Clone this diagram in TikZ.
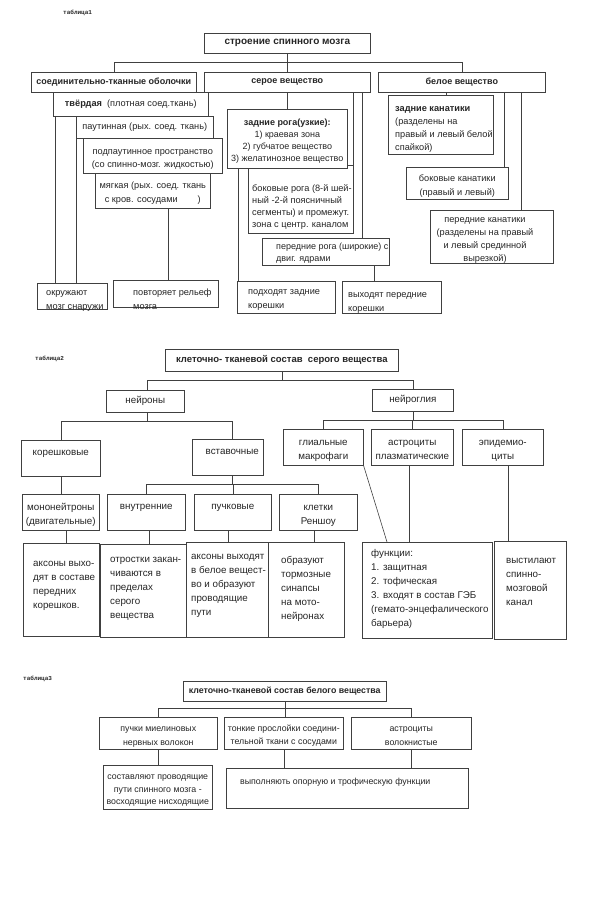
\documentclass[tikz,border=0pt]{standalone}
\usepackage{fontspec}
\setmainfont{Liberation Sans}
\newfontfamily\tabfont{Liberation Mono}
\usetikzlibrary{positioning,calc}
\newcommand\sqt{\rule{0pt}{12.5pt}}
\newcommand\sqb{\rule[-2.5pt]{0pt}{2.5pt}}
\def\bsz{9.2}

\begin{document}
\begin{tikzpicture}[x=1pt,y=1pt]
        \tikzstyle{every node}+=[text=black!85]
        \tikzstyle{bx}=[draw=black!75, fill=white, line width=0.6pt, inner xsep=1pt, inner ysep=1pt, anchor=north west, align=center, font=\fontsize{\bsz}{14}\selectfont]
        \tikzstyle{hd}=[bx, font=\fontsize{9}{12}\selectfont\bfseries]
        \tikzstyle{txt}=[inner sep=0pt, anchor=north west, align=left, font=\fontsize{\bsz}{14}\selectfont]
        \tikzstyle{tab}=[inner sep=0pt, anchor=west, font=\tabfont\fontsize{6}{7}\selectfont\bfseries]
        \tikzstyle{ln}=[draw=black!75, line width=0.6pt]
        \useasboundingbox (0,0) rectangle (589,-902);
        \node[tab] (tab1) at (63,-13) {таблица1};
        \node[tab] (tab2) at (35,-359) {таблица2};
        \node[tab] (tab3) at (23,-679) {таблица3};
        % table 1
        \node[hd, font=\fontsize{10}{12}\selectfont\bfseries, minimum width=166, minimum height=20] (str) at (204,-33) {строение спинного мозга};
        \node[hd, minimum width=165, minimum height=20] (obol) at (31,-72) {соединительно-тканные оболочки};
        \node[hd, minimum width=166, minimum height=20] (seroe) at (204,-72) {серое вещество};
        \node[hd, minimum width=167, minimum height=20] (beloe) at (378,-72) {белое вещество};
        \node[bx, minimum width=155, minimum height=24] (tverd) at (53,-92) {{\bfseries твёрдая}\ \ (плотная соед.ткань)};
        \node[bx, minimum width=137, minimum height=22] (paut) at (76,-116) {паутинная (рых. соед. ткань)};
        \node[bx, font=\fontsize{\bsz}{13}\selectfont, minimum width=139, minimum height=35] (podp) at (83,-138) {\sqt подпаутинное пространство\\(со спинно-мозг. жидкостью)\sqb};
        \node[bx, minimum width=115, minimum height=35] (myag) at (95,-173) {\sqt мягкая (рых. соед. ткань\\с кров. сосудами\hspace{20pt})\sqb};
        \node[bx, minimum width=70, minimum height=26] (okr) at (37,-283) {};
        \node[txt] (okrT) at (46,-285.6) {\strut окружают\\мозг снаружи};
        \node[bx, minimum width=105, minimum height=27] (povt) at (113,-280) {};
        \node[txt] (povtT) at (133,-285.6) {\strut повторяет рельеф\\мозга};
        \node[bx, minimum width=105, minimum height=68] (brog) at (248,-165) {};
        \node[txt, font=\fontsize{\bsz}{12}\selectfont] (brogT) at (252,-183) {\strut боковые рога (8-й шей-\\ный -2-й поясничный\\сегменты) и промежут.\\зона с центр. каналом};
        \node[bx, font=\fontsize{9}{12}\selectfont, inner xsep=0.5pt, minimum width=120, minimum height=59] (zrog) at (227,-109) {\sqt{\bfseries задние рога(узкие):}\\1) краевая зона\\2) губчатое вещество\\3) желатинозное вещество\sqb};
        \node[bx, minimum width=127, minimum height=27] (prog) at (262,-238) {};
        \node[txt, font=\fontsize{9}{12}\selectfont] (progT) at (276,-241) {\strut передние рога (широкие) с\\двиг. ядрами};
        \node[bx, minimum width=98, minimum height=32] (podkh) at (237,-281) {};
        \node[txt] (podkhT) at (248,-284.6) {\strut подходят задние\\корешки};
        \node[bx, minimum width=99, minimum height=32] (vykh) at (342,-281) {};
        \node[txt] (vykhT) at (348,-287.6) {\strut выходят передние\\корешки};
        \node[bx, minimum width=105, minimum height=59] (zkan) at (388,-95) {};
        \node[txt, font=\fontsize{\bsz}{13}\selectfont] (zkanT) at (395,-102.3) {\strut{\bfseries задние канатики}\\(разделены на\\правый и левый белой\\спайкой)};
        \node[bx, minimum width=102, minimum height=32] (bkan) at (406,-167) {\sqt боковые канатики\\(правый и левый)\sqb};
        \node[bx, minimum width=123, minimum height=53] (pkan) at (430,-210) {};
        \node[txt, anchor=north, align=center, font=\fontsize{\bsz}{13}\selectfont] (pkanT) at (485,-213.3) {\strut передние канатики\\(разделены на правый\\и левый срединной\\вырезкой)};
        \coordinate (bus1) at (0,-62);
        \draw[ln] (str.south) -- (seroe.north);
        \draw[ln] (obol.north) |- (bus1 -| beloe.north) -- (beloe.north);
        \draw[ln] (seroe.south) -- (zrog.north);
        \draw[ln] (brog.north east) -- (brog.north east |- seroe.south);
        \draw[ln] ([xshift=-8]seroe.south east) -- ([xshift=-8]seroe.south east |- prog.north);
        \draw[ln] ([xshift=11]zrog.south west) -- ([xshift=11]zrog.south west |- podkh.north);
        \draw[ln] ([xshift=-15]prog.south east) -- ([xshift=-15]prog.south east |- vykh.north);
        \draw[ln] ([xshift=2]tverd.south west) -- ([xshift=2]tverd.south west |- okr.north);
        \draw[ln] (paut.south west) -- (paut.south west |- okr.north);
        \draw[ln] ([xshift=73]myag.south west) -- ([xshift=73]myag.south west |- povt.north);
        \draw[ln] ([xshift=68]beloe.south west) -- ([xshift=68]beloe.south west |- zkan.north);
        \draw[ln] ([xshift=-4]bkan.north east) -- ([xshift=-4]bkan.north east |- beloe.south);
        \draw[ln] ([xshift=-24]beloe.south east) -- ([xshift=-24]beloe.south east |- pkan.north);
        % table 2
        \def\bsz{9.8}
        \node[hd, font=\fontsize{9.5}{12}\selectfont\bfseries, minimum width=233, minimum height=22] (tk2) at (165,-349) {клеточно- тканевой состав\ \ серого вещества};
        \node[bx, minimum width=78, minimum height=22] (neur) at (106,-390) {нейроны};
        \node[bx, minimum width=81, minimum height=22] (glia) at (372,-389) {нейроглия};
        \node[bx, minimum width=79, minimum height=36] (koresh) at (21,-440) {};
        \node[txt, anchor=north] (koreshT) at ([yshift=-5.7]koresh.north) {\strut корешковые};
        \node[bx, minimum width=71, minimum height=36] (vstav) at (192,-439) {};
        \node[txt, anchor=north] (vstavT) at ([shift={(4.5,-5.7)}]vstav.north) {\strut вставочные};
        \node[bx, minimum width=80, minimum height=36] (makr) at (283,-429) {\sqt глиальные\\макрофаги\sqb};
        \node[bx, minimum width=82, minimum height=36] (astr) at (371,-429) {\sqt астроциты\\плазматические\sqb};
        \node[bx, minimum width=81, minimum height=36] (epid) at (462,-429) {\sqt эпидемио-\\циты\sqb};
        \node[bx, minimum width=77, minimum height=36] (mono) at (22,-494) {\sqt мононейтроны\\(двигательные)\sqb};
        \node[bx, minimum width=78, minimum height=36] (vnutr) at (107,-494) {};
        \node[txt, anchor=north] (vnutrT) at ([yshift=-5.7]vnutr.north) {\strut внутренние};
        \node[bx, minimum width=77, minimum height=36] (puch) at (194,-494) {};
        \node[txt, anchor=north] (puchT) at ([yshift=-5.7]puch.north) {\strut пучковые};
        \node[bx, minimum width=78, minimum height=36] (rensh) at (279,-494) {\sqt клетки\\Реншоу\sqb};
        \node[bx, minimum width=76, minimum height=93] (aks1) at (23,-543) {};
        \node[txt] (aks1T) at (33,-556.6) {\strut аксоны выхо-\\дят в составе\\передних\\корешков.};
        \node[bx, minimum width=86, minimum height=93] (otr) at (100,-544) {};
        \node[txt] (otrT) at (110,-552.6) {\strut отростки закан-\\чиваются в\\пределах\\серого\\вещества};
        \node[bx, minimum width=82, minimum height=95] (aks2) at (186,-542) {};
        \node[txt] (aks2T) at (191,-549.6) {\strut аксоны выходят\\в белое вещест-\\во и образуют\\проводящие\\пути};
        \node[bx, minimum width=76, minimum height=95] (obr) at (268,-542) {};
        \node[txt] (obrT) at (281,-553.6) {\strut образуют\\тормозные\\синапсы\\на мото-\\нейронах};
        \node[bx, minimum width=130, minimum height=96] (func) at (362,-542) {};
        \node[txt] (funcT) at (371,-546.6) {\strut функции:\\1. защитная\\2. тофическая\\3. входят в состав ГЭБ\\(гемато-энцефалического\\барьера)};
        \node[bx, minimum width=72, minimum height=98] (vyst) at (494,-541) {};
        \node[txt] (vystT) at (506,-553.6) {\strut выстилают\\спинно-\\мозговой\\канал};
        \coordinate (bus2) at (0,-380);
        \coordinate (bus3) at (0,-421);
        \coordinate (bus4) at (0,-420);
        \coordinate (bus5) at (0,-484);
        \draw[ln] (tk2.south) -- (tk2.south |- bus2);
        \draw[ln] ([xshift=2]neur.north) |- (bus2 -| glia.north) -- (glia.north);
        \draw[ln] ([xshift=2]neur.south) -- ([xshift=2]neur.south |- bus3);
        \draw[ln] (koresh.north) |- ([xshift=4.5]vstav.north |- bus3) -- ([xshift=4.5]vstav.north);
        \draw[ln] (glia.south) -- (glia.south |- bus4);
        \draw[ln] (makr.north) |- (bus4 -| epid.north) -- (epid.north);
        \draw[ln] (astr.north) -- (astr.north |- bus4);
        \draw[ln] (koresh.south) -- (mono.north);
        \draw[ln] ([xshift=4.5]vstav.south) -- ([xshift=4.5]vstav.south |- bus5);
        \draw[ln] (vnutr.north) |- (bus5 -| rensh.north) -- (rensh.north);
        \draw[ln] (puch.north) -- (puch.north |- bus5);
        \draw[ln] ([xshift=5.5]mono.south) -- ([xshift=5.5]mono.south |- aks1.north);
        \draw[ln] ([xshift=3]vnutr.south) -- ([xshift=3]vnutr.south |- otr.north);
        \draw[ln] ([xshift=-4.5]puch.south) -- ([xshift=-4.5]puch.south |- aks2.north);
        \draw[ln] ([xshift=-4]rensh.south) -- ([xshift=-4]rensh.south |- obr.north);
        \draw[ln] (makr.south east) -- ([xshift=25]func.north west);
        \draw[ln] ([xshift=-3]astr.south) -- ([xshift=-3]astr.south |- func.north);
        \draw[ln] ([xshift=5.5]epid.south) -- ([xshift=5.5]epid.south |- vyst.north);
        % table 3
        \def\bsz{8.8}
        \node[hd, font=\fontsize{8.8}{12}\selectfont\bfseries, minimum width=203, minimum height=20] (tk3) at (183,-681) {клеточно-тканевой состав белого вещества};
        \node[bx, minimum width=118, minimum height=32] (puchki) at (99,-717) {\sqt пучки миелиновых\\нервных волокон\sqb};
        \node[bx, font=\fontsize{8.8}{13}\selectfont, minimum width=119, minimum height=32] (prosl) at (224,-717) {\sqt тонкие прослойки соедини-\\тельной ткани с сосудами\sqb};
        \node[bx, minimum width=120, minimum height=32] (astr3) at (351,-717) {\sqt астроциты\\волокнистые\sqb};
        \node[bx, font=\fontsize{8.8}{12.5}\selectfont, minimum width=109, minimum height=44] (sost) at (103,-765) {\sqt составляют проводящие\\пути спинного мозга -\\восходящие нисходящие\sqb};
        \node[bx, minimum width=242, minimum height=40] (vyp) at (226,-768) {};
        \node[txt] (vypT) at (240,-774.6) {\strut выполняють опорную и трофическую функции};
        \coordinate (bus6) at (0,-708);
        \draw[ln] (tk3.south) -- (tk3.south |- prosl.north);
        \draw[ln] (puchki.north) |- (bus6 -| astr3.north) -- (astr3.north);
        \draw[ln] (puchki.south) -- (puchki.south |- sost.north);
        \draw[ln] (prosl.south) -- (prosl.south |- vyp.north);
        \draw[ln] (astr3.south) -- (astr3.south |- vyp.north);
        \end{tikzpicture}
\end{document}
